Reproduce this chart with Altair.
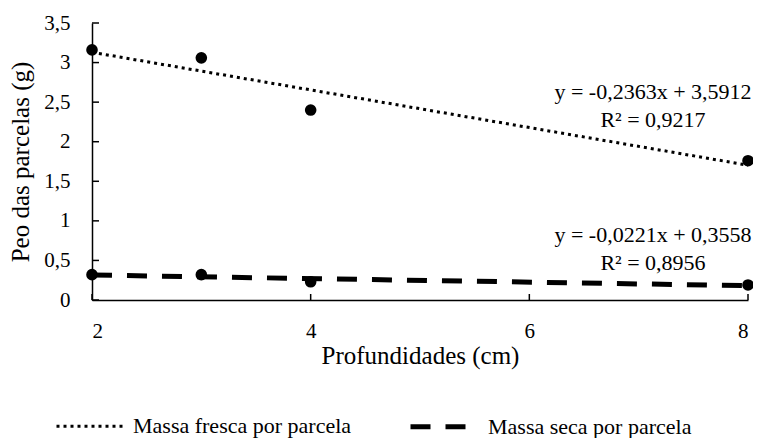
import altair as alt
import pandas as pd

# ---- data ----
profundidades = [2, 3, 4, 8]
massa_fresca = [3.16, 3.06, 2.40, 1.76]
massa_seca = [0.32, 0.32, 0.23, 0.19]
series_names = ["Massa fresca por parcela", "Massa seca por parcela"]
y_tick_values = [0, 0.5, 1, 1.5, 2, 2.5, 3, 3.5]
x_tick_values = [2, 4, 6, 8]
eq_fresca = "y = -0,2363x + 3,5912\nR² = 0,9217"
eq_seca = "y = -0,0221x + 0,3558\nR² = 0,8956"

rows = []
for x, v in zip(profundidades, massa_fresca):
    rows.append({"x": x, "y": v, "serie": series_names[0]})
for x, v in zip(profundidades, massa_seca):
    rows.append({"x": x, "y": v, "serie": series_names[1]})
df = pd.DataFrame(rows)

eq_df = pd.DataFrame({
    "x": [profundidades[-1], profundidades[-1]],
    "y": [massa_fresca[-1], massa_seca[-1]],
    "serie": series_names,
    "txt": [eq_fresca, eq_seca],
})
yt_df = pd.DataFrame({"x": [2] * len(y_tick_values), "y": y_tick_values})
xt_df = pd.DataFrame({"x": x_tick_values, "y": [0] * len(x_tick_values)})

FONT = "Liberation Serif"
X_TITLE = "Profundidades (cm)"
Y_TITLE = "Peo das parcelas (g)"

x_scale = alt.Scale(domain=[2, 8], nice=False, zero=False)
y_scale = alt.Scale(domain=[0, 3.5], nice=False, zero=True)

x_axis = alt.Axis(values=x_tick_values, grid=False, ticks=False, labelOverlap=False,
                  labelFont=FONT, labelFontSize=21,
                  labelPadding=20, titlePadding=2, format="d")
y_axis = alt.Axis(values=y_tick_values, grid=False, ticks=False, labelOverlap=False,
                  labelFont=FONT, labelFontSize=21,
                  labelPadding=22, titlePadding=10,
                  labelExpr="replace(format(datum.value, '.1~f'), '.', ',')")

X = alt.X("x:Q", scale=x_scale, title=X_TITLE, axis=x_axis)
Y = alt.Y("y:Q", scale=y_scale, title=Y_TITLE, axis=y_axis)

legend = alt.Legend(orient="none", legendX=-37, legendY=367, direction="horizontal",
                    title=None, symbolType="stroke", symbolSize=4624,
                    symbolStrokeColor="black", labelFont=FONT, labelFontSize=22,
                    labelLimit=500, labelColor="black", labelOffset=7, columnPadding=48)

base = alt.Chart(df)

lines = base.transform_regression(
    "x", "y", groupby=["serie"], extent=[2, 8]
).mark_line(color="black").encode(
    x=X,
    y=Y,
    strokeDash=alt.StrokeDash("serie:N",
                              scale=alt.Scale(domain=series_names, range=[[3, 4], [20, 15]]),
                              legend=legend),
    strokeWidth=alt.StrokeWidth("serie:N",
                                scale=alt.Scale(domain=series_names, range=[3, 5]),
                                legend=legend),
)

points = base.mark_point(filled=True, shape="circle", size=135, color="black", opacity=1).encode(
    x=X, y=Y,
)

eq_base = alt.Chart(eq_df)
txt_fresca = eq_base.transform_filter(alt.datum.serie == series_names[0]).mark_text(
    align="center", baseline="alphabetic", dx=-95, dy=-62, lineBreak="\n", lineHeight=28,
    font=FONT, fontSize=22, color="black"
).encode(x=X, y=Y, text="txt:N")
txt_seca = eq_base.transform_filter(alt.datum.serie == series_names[1]).mark_text(
    align="center", baseline="alphabetic", dx=-95, dy=-43, lineBreak="\n", lineHeight=28,
    font=FONT, fontSize=22, color="black"
).encode(x=X, y=Y, text="txt:N")

y_ticks = alt.Chart(yt_df).mark_rule(color="black", strokeWidth=1.5).encode(
    y=Y, x=alt.value(0), x2=alt.value(7))
x_ticks = alt.Chart(xt_df).mark_rule(color="black", strokeWidth=1.5).encode(
    x=X, y=alt.value(277), y2=alt.value(271))

chart = alt.layer(lines, y_ticks, x_ticks, points, txt_fresca, txt_seca).properties(
    width=656, height=277,
    autosize=alt.AutoSizeParams(type="none"),
    padding={"left": 84, "top": 15, "right": 5, "bottom": 138},
).configure_view(stroke=None).configure_axis(
    domainColor="black", domainWidth=1.5,
    labelFont=FONT, labelFontSize=21, labelColor="black",
    titleFont=FONT, titleFontSize=25, titleFontWeight="normal", titleColor="black",
)

chart.save("out.html", embed_options={"renderer": "svg", "actions": False})
